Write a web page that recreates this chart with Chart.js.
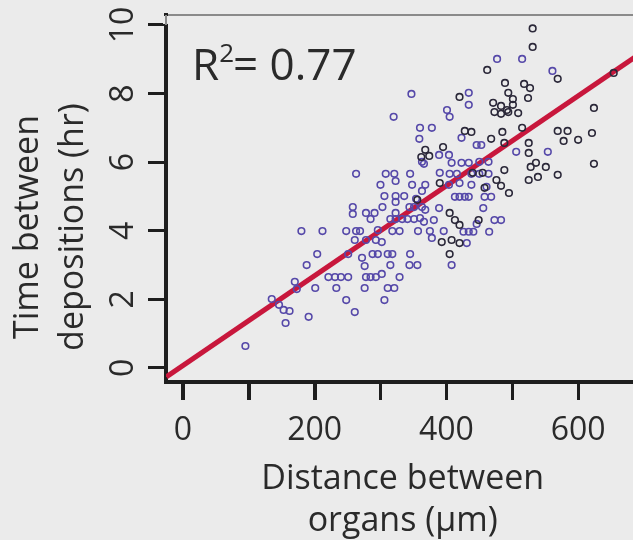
<!DOCTYPE html>
<html>
<head>
<meta charset="utf-8">
<script src="https://cdn.jsdelivr.net/npm/chart.js@4.4.0/dist/chart.umd.min.js"></script>
<style>
  html, body { margin: 0; padding: 0; background: #ebebeb; overflow: hidden; }
  canvas { display: block; }
</style>
</head>
<body>
<canvas id="chart" width="645" height="540"></canvas>
<script>
// distance between organs (um), time between depositions (hr)
var violetPoints = [
  [477,9.01],[515,9.01],[561,8.66],[347,7.99],[434,8.02],[434,7.67],[320,7.32],[401,7.52],[405,7.32],
  [360,7.0],[378,7.0],[359,6.68],[423,6.71],[446,6.5],[453,6.5],[404,6.21],[389,6.21],[408,5.98],
  [423,5.98],[434,5.98],[450,6.01],[464,6.01],[506,6.3],[554,6.3],[363,6.01],[366,5.95],[263,5.66],
  [308,5.66],[321,5.66],[345,5.66],[390,5.69],[405,5.66],[416,5.66],[438,5.66],[450,5.66],[464,5.66],
  [323,5.45],[300,5.34],[348,5.34],[368,5.34],[404,5.34],[420,5.39],[438,5.34],[461,5.28],[363,5.16],
  [306,5.01],[323,5.01],[336,5.01],[354,4.93],[413,4.99],[420,4.99],[428,4.99],[434,4.99],[458,4.99],
  [468,4.99],[258,4.69],[258,4.49],[278,4.52],[291,4.52],[303,4.69],[323,4.84],[323,4.52],[344,4.69],
  [351,4.69],[363,4.69],[368,4.61],[389,4.66],[456,4.66],[360,4.37],[366,4.26],[285,4.34],[315,4.34],
  [323,4.34],[333,4.34],[341,4.34],[351,4.34],[381,4.31],[473,4.31],[483,4.31],[446,4.2],[180,3.99],
  [212,3.99],[248,3.99],[263,3.99],[269,3.99],[296,4.02],[318,3.99],[329,3.99],[357,3.99],[375,3.99],
  [396,3.99],[426,3.97],[434,3.97],[441,3.97],[465,3.97],[261,3.73],[278,3.73],[293,3.73],[302,3.67],
  [378,3.79],[431,3.64],[204,3.32],[251,3.32],[272,3.21],[288,3.32],[296,3.32],[311,3.32],[318,3.32],
  [345,3.32],[188,3.0],[276,2.97],[315,3.0],[344,3.0],[356,3.0],[408,3.0],[221,2.65],[231,2.65],
  [240,2.65],[251,2.65],[278,2.65],[285,2.65],[293,2.65],[302,2.74],[329,2.65],[201,2.33],[233,2.33],
  [276,2.33],[311,2.33],[321,2.33],[170,2.51],[173,2.3],[135,2.01],[146,1.84],[153,1.69],[162,1.66],
  [156,1.31],[191,1.49],[248,1.98],[306,1.98],[261,1.63],[95,0.64]
];
var darkPoints = [
  [531,9.9],[531,9.36],[462,8.69],[569,8.43],[654,8.6],[489,8.31],[518,8.28],[527,8.16],[494,8.02],
  [501,7.84],[524,7.87],[420,7.9],[471,7.73],[483,7.64],[492,7.52],[501,7.67],[473,7.46],[483,7.41],
  [494,7.46],[509,7.43],[624,7.58],[515,7.0],[569,6.91],[584,6.91],[578,6.62],[600,6.65],[621,6.85],
  [624,5.95],[569,5.63],[428,6.91],[438,6.88],[485,6.88],[468,6.68],[488,6.56],[525,6.56],[395,6.44],
  [362,6.15],[525,6.27],[536,5.98],[528,5.86],[551,5.86],[525,5.48],[539,5.57],[488,5.77],[476,5.48],
  [483,5.31],[495,5.1],[458,5.25],[449,4.31],[405,4.52],[413,4.31],[420,4.17],[390,5.39],[408,3.73],
  [393,3.67],[420,3.64],[405,3.32],[356,4.9],[368,6.36],[374,6.18],[455,5.69],[440,5.69]
];
var fitDist = [-25, 693];
var fitTime = [-0.26, 9.15];

var xTickLabels = { 0: '0', 200: '200', 400: '400', 600: '600' };
var yTickValues = [0, 2, 4, 6, 8, 10];
var xTitle = ['Distance between', 'organs (\u00b5m)'];
var yTitle = ['Time between', 'depositions (hr)'];
var rSquared = '0.77';

function toXY(list) {
  return list.map(function (p) { return { x: p[0], y: p[1] }; });
}

var ink = '#1e1e1e';
var frame = '#8a8a8a';
var textColor = '#2a2a2a';
Chart.defaults.font.family = '"Open Sans", sans-serif';

// rotated y title, R^2 note, x tick marks and the grey top of the left spine
var extraText = {
  id: 'extraText',
  afterDraw: function (chart) {
    var ctx = chart.ctx;
    var area = chart.chartArea;
    var xs = chart.scales.x;
    var ys = chart.scales.y;
    ctx.save();

    // x tick marks from the x scale's own ticks
    ctx.strokeStyle = ink;
    ctx.lineWidth = 3;
    xs.ticks.forEach(function (t) {
      var px = Math.round(xs.getPixelForValue(t.value)) + 0.5;
      ctx.beginPath();
      ctx.moveTo(px, area.bottom);
      ctx.lineTo(px, area.bottom + 18);
      ctx.stroke();
    });

    // the black spine stops at the top tick, the frame above it is grey
    var topTick = ys.getPixelForValue(yTickValues[yTickValues.length - 1]);
    ctx.fillStyle = '#ebebeb';
    ctx.fillRect(area.left - 3, area.top + 1, 5, topTick - area.top - 2);
    ctx.strokeStyle = frame;
    ctx.lineWidth = 2;
    ctx.beginPath();
    ctx.moveTo(area.left, area.top);
    ctx.lineTo(area.left, topTick);
    ctx.stroke();

    ctx.fillStyle = textColor;
    ctx.font = '34px "Open Sans"';
    ctx.textAlign = 'center';
    ctx.textBaseline = 'alphabetic';
    yTitle.forEach(function (line, i) {
      ctx.save();
      ctx.translate(38 + i * 45, 227);
      ctx.rotate(-Math.PI / 2);
      ctx.fillText(line, 0, 0);
      ctx.restore();
    });

    ctx.textAlign = 'left';
    var x = 192, base = 80;
    ctx.font = '44px "Open Sans"';
    ctx.fillText('R', x, base);
    x += ctx.measureText('R').width;
    ctx.font = '26px "Open Sans"';
    ctx.fillText('2', x, base - 18);
    x += ctx.measureText('2').width - 1;
    ctx.font = '44px "Open Sans"';
    ctx.fillText('= ' + rSquared, x, base);
    ctx.restore();
  }
};

new Chart(document.getElementById('chart'), {
  type: 'scatter',
  data: {
    datasets: [{
      data: toXY(violetPoints),
      borderColor: '#5649a9',
      backgroundColor: 'rgba(0,0,0,0)',
      pointRadius: 3.3,
      borderWidth: 1.6,
      order: 2
    }, {
      data: toXY(darkPoints),
      borderColor: '#2b2839',
      backgroundColor: 'rgba(0,0,0,0)',
      pointRadius: 3.3,
      borderWidth: 1.6,
      order: 1
    }, {
      type: 'line',
      data: fitDist.map(function (d, i) { return { x: d, y: fitTime[i] }; }),
      borderColor: '#c8173c',
      borderWidth: 5,
      pointRadius: 0,
      order: 3
    }]
  },
  options: {
    responsive: false,
    animation: false,
    layout: { padding: 0 },
    plugins: { legend: { display: false }, tooltip: { enabled: false } },
    scales: {
      x: {
        type: 'linear',
        offset: false,
        min: -25.5,
        max: 693,
        ticks: {
          stepSize: 100,
          includeBounds: false,
          autoSkip: false,
          maxRotation: 0,
          padding: 16,
          color: textColor,
          font: { size: 32, lineHeight: 0.9 },
          callback: function (v) { return xTickLabels[v] || ''; }
        },
        grid: { display: true, offset: false, drawOnChartArea: false, drawTicks: true, tickLength: 18, tickWidth: 3, tickColor: ink },
        border: { display: true, color: ink, width: 4 },
        title: {
          display: true,
          text: xTitle,
          color: textColor,
          font: { size: 34, lineHeight: 1.25 },
          padding: { top: 0, bottom: -3 }
        },
        afterFit: function (s) { s.height = 158; }
      },
      x2: {
        type: 'linear',
        position: 'top',
        offset: false,
        min: 0,
        max: 1,
        ticks: { display: false },
        grid: { display: false, offset: false },
        border: { display: true, color: frame, width: 2 },
        afterFit: function (s) { s.height = 15; }
      },
      y: {
        type: 'linear',
        offset: false,
        min: -0.41,
        max: 10.29,
        afterBuildTicks: function (s) {
          s.ticks = yTickValues.map(function (v) { return { value: v }; });
        },
        ticks: {
          minRotation: 90,
          maxRotation: 90,
          crossAlign: 'center',
          padding: 6,
          color: textColor,
          font: { size: 32, lineHeight: 0.4 }
        },
        grid: { display: true, offset: false, drawOnChartArea: false, drawTicks: true, tickLength: 18, tickWidth: 3, tickColor: ink },
        border: { display: true, color: ink, width: 4 },
        afterFit: function (s) { s.width = 166; }
      }
    }
  },
  plugins: [extraText]
});
</script>
</body>
</html>
